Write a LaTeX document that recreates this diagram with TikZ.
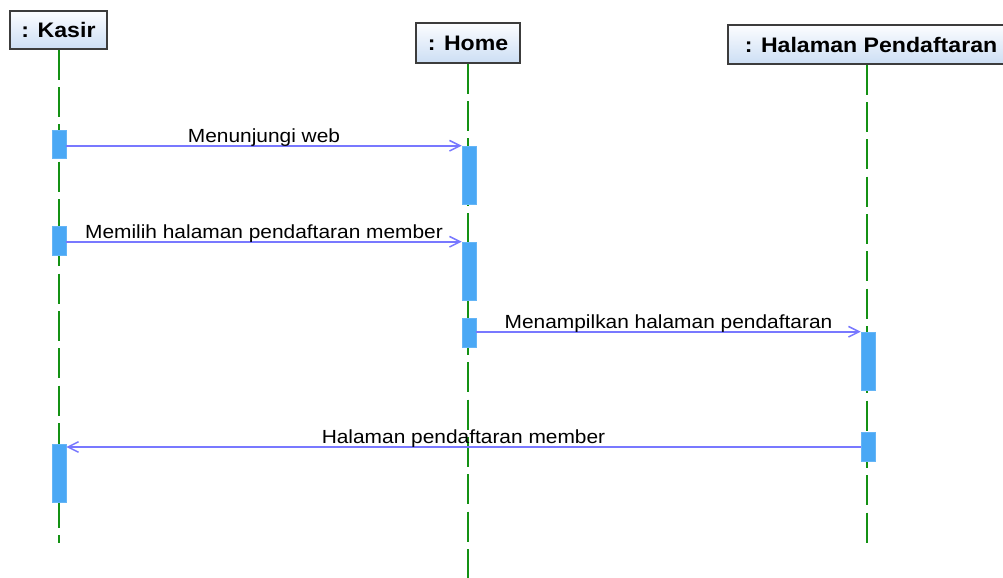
\documentclass[tikz,border=0pt]{standalone}
\usepackage{fontspec}
\setmainfont{Liberation Sans}
\usetikzlibrary{arrows.meta}
\definecolor{lifegreen}{RGB}{20,145,20}
\definecolor{actblue}{RGB}{74,168,245}
\definecolor{msgblue}{RGB}{120,120,255}
\definecolor{headtop}{RGB}{252,253,255}
\definecolor{headbot}{RGB}{204,222,244}
\definecolor{headline}{RGB}{60,60,60}
\tikzset{
  objbox/.style={draw=headline, line width=1.1pt, top color=headtop, bottom color=headbot,
    inner sep=0pt, font=\fontsize{15.75}{18}\selectfont\bfseries},
  life/.style={draw=lifegreen, line width=1.5pt, dash pattern=on 22.5pt off 5.5pt},
  actbox/.style={fill=actblue, draw=actblue!85!white, line width=0.4pt,
    minimum width=10.5pt, inner sep=0pt},
  msg/.style={draw=msgblue, line width=1.3pt, -{Straight Barb[length=8pt,width=8pt,line width=1.1pt]}},
  lbl/.style={anchor=base, inner sep=0pt, yshift=2.8pt, font=\fontsize{14.25}{17}\selectfont}
}
\newcommand{\wide}[1]{\scalebox{1.1}[1]{#1}}
\begin{document}
\begin{tikzpicture}[x=0.75pt, y=-0.75pt]
\useasboundingbox (0,0) rectangle (1003,578);
\clip (0,0) rectangle (1003,578);

% object headers
\node[objbox, minimum width=72.75pt, minimum height=28.5pt] (kasir) at (58.5,30) {\wide{: Kasir}};
\node[objbox, minimum width=78pt, minimum height=30pt] (home) at (468,43) {\wide{: Home}};
\node[objbox, minimum width=214.5pt, minimum height=29.25pt] (hal) at (871,44.5) {\wide{: Halaman Pendaftaran}};

% lifelines
\coordinate (kasirEnd) at (59,543);
\coordinate (homeEnd) at (468,578);
\coordinate (halEnd) at (867,548);
\draw[life] (kasir.south -| kasirEnd) -- (kasirEnd);
\draw[life] (home.south -| homeEnd) -- (homeEnd);
\draw[life] (hal.south -| halEnd) -- (halEnd);

% activations
\node[actbox, minimum height=21pt]    (k1) at (59,144) {};
\node[actbox, minimum height=43.5pt]  (h1) at (469,175) {};
\node[actbox, minimum height=21.75pt] (k2) at (59,240.5) {};
\node[actbox, minimum height=43.5pt]  (h2) at (469,271) {};
\node[actbox, minimum height=21.75pt] (h3) at (469,332.5) {};
\node[actbox, minimum height=43.5pt]  (p1) at (868,361) {};
\node[actbox, minimum height=21.75pt] (p2) at (868,447) {};
\node[actbox, minimum height=43.5pt]  (k3) at (59,473) {};

% messages
\draw[msg] (k1.east |- h1.north west) -- node[lbl] {\wide{Menunjungi web}} (h1.north west);
\draw[msg] (k2.east |- h2.north west) -- node[lbl] {\wide{Memilih halaman pendaftaran member}} (h2.north west);
\draw[msg] (h3.east |- p1.north west) -- node[lbl] {\wide{Menampilkan halaman pendaftaran}} (p1.north west);
\draw[msg] (p2.west) -- node[lbl] {\wide{Halaman pendaftaran member}} (p2.west -| k3.east);
\end{tikzpicture}
\end{document}
